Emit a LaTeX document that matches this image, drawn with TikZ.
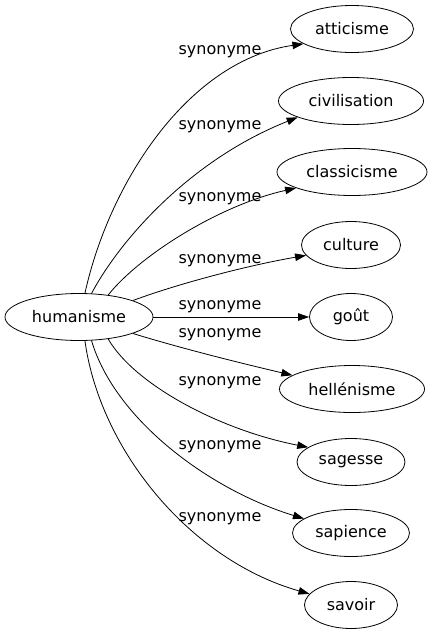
\documentclass[tikz,border=0pt]{standalone}
\usepackage{fontspec}
\setmainfont{DejaVu Sans}
\usetikzlibrary{shapes.geometric,arrows.meta}

\tikzset{
    term/.style={ellipse, draw, line width=0.8pt, minimum height=47pt, inner sep=0pt, font=\fontsize{16}{19}\selectfont},
    syn/.style={draw, line width=0.8pt, -{Triangle[length=11pt,width=7.5pt]}},
    lbl/.style={inner sep=0pt, font=\fontsize{16}{19}\selectfont}
}

\begin{document}
\begin{tikzpicture}[x=1pt,y=-1pt]
    \useasboundingbox (0,0) rectangle (430,635);

    \node[term, minimum width=148pt] (hum) at (79,317) {humanisme};
    \node[term, minimum width=123pt] (att) at (352,29) {atticisme};
    \node[term, minimum width=145pt] (civ) at (351,101) {civilisation};
    \node[term, minimum width=150pt] (cla) at (352,172) {classicisme};
    \node[term, minimum width=99pt] (cul) at (351,245) {culture};
    \node[term, minimum width=83pt] (got) at (351,317) {goût};
    \node[term, minimum width=145pt] (hel) at (352,389) {hellénisme};
    \node[term, minimum width=108pt] (sag) at (351,462) {sagesse};
    \node[term, minimum width=117pt] (sap) at (351,533) {sapience};
    \node[term, minimum width=93pt] (sav) at (351,605) {savoir};

    % edges
    \draw[syn] (hum.76) .. controls (110,180) and (190,60) .. (att.197);
    \draw[syn] (hum.62) .. controls (120,240) and (190,160) .. (civ.197);
    \draw[syn] (hum.37) .. controls (140,255) and (220,205) .. (cla.196);
    \draw[syn] (hum.17) .. controls (180,283) and (250,265) .. (cul.193);
    \draw[syn] (hum) -- (got);
    \draw[syn] (hum.-17) .. controls (180,348) and (240,363) .. (hel.167);
    \draw[syn] (hum.-37) .. controls (135,385) and (220,430) .. (sag.161);
    \draw[syn] (hum.-62) .. controls (115,420) and (210,490) .. (sap.163);
    \draw[syn] (hum.-76) .. controls (100,450) and (190,560) .. (sav.165);

    % labels
    \node[lbl] (l1) at (220,52) {synonyme};
    \node[lbl] (l2) at (220,127) {synonyme};
    \node[lbl] (l3) at (220,199) {synonyme};
    \node[lbl] (l4) at (220,261) {synonyme};
    \node[lbl] (l5) at (220,307) {synonyme};
    \node[lbl] (l6) at (220,335) {synonyme};
    \node[lbl] (l7) at (220,383) {synonyme};
    \node[lbl] (l8) at (220,447) {synonyme};
    \node[lbl] (l9) at (220,519) {synonyme};
\end{tikzpicture}
\end{document}
